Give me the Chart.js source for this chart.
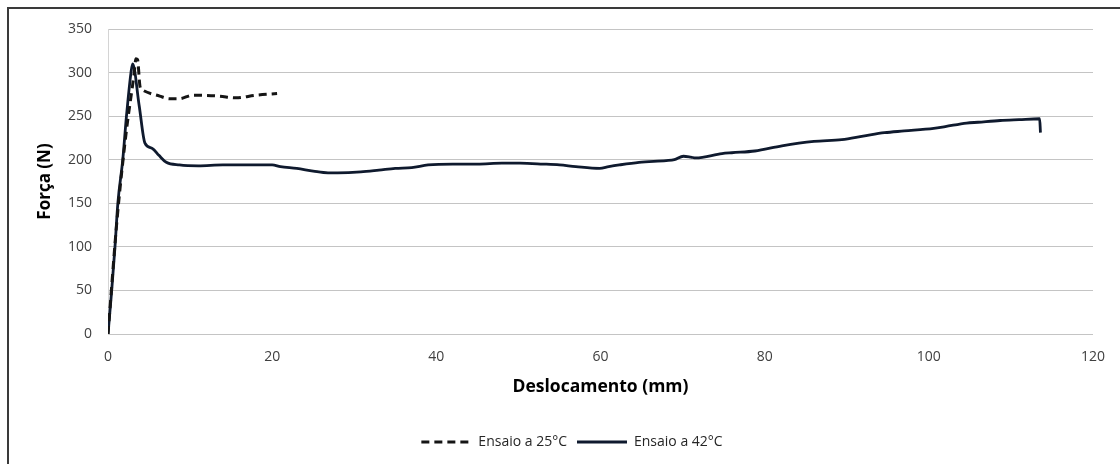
<!DOCTYPE html>
<html>
<head>
<meta charset="utf-8">
<script src="https://cdn.jsdelivr.net/npm/chart.js@4/dist/chart.umd.min.js"></script>
<style>
  body { margin: 0; background: #fff; }
  #frame { position: absolute; left: 7px; top: 7px; width: 1200px; height: 500px; border: 2px solid #3a3a3a; }
  #grafico { position: absolute; left: 0; top: 0; }
</style>
</head>
<body>
<div id="frame"></div>
<canvas id="grafico" width="1120" height="464"></canvas>
<script>
// Ensaio a 25°C (tracejado)
var desloc25 = [0, 1.1, 2.2, 3.2, 3.4, 3.6, 3.9, 4.2, 6.3, 7.5, 8.7, 10.3, 13.5, 15.6, 18.0, 20.6];
var forca25  = [0, 131, 230, 300, 316, 315, 284, 280, 273, 270, 270, 274, 273, 271, 274, 276];

// Ensaio a 42°C (contínuo)
var desloc42 = [0, 0.45, 0.85, 1.2, 1.8, 2.25, 2.8, 3.0, 3.8, 4.5, 5.4, 6.2, 7.1, 8.7, 11, 14, 17, 20, 21, 23, 25, 26.8, 28, 30.8, 33, 35, 37, 39, 42, 45, 48, 50.2, 53, 55, 57, 59.9, 61, 62.3, 64.7, 68, 69, 70.1, 71, 71.6, 74.8, 76, 78.8, 82.1, 86, 89.4, 92, 94.6, 97, 100.6, 102, 104.6, 106, 108.7, 111, 113.5, 113.6];
var forca42  = [0, 50, 100, 150, 200, 250, 300, 310, 262, 219, 213, 205, 197, 194, 193, 194, 194, 194, 192, 190, 187, 185, 185, 186, 188, 190, 191, 194, 195, 195, 196, 196, 195, 194, 192, 190, 192, 194, 197, 199, 200, 204, 203, 202, 207, 208, 210, 216, 221, 223, 227, 231, 233, 236, 238, 242, 243, 245, 246, 247, 231];

var rotulos = ['Ensaio a 25°C', 'Ensaio a 42°C'];

function pontos(xs, ys) {
    var out = [];
    for (var i = 0; i < xs.length; i++) out.push({ x: xs[i], y: ys[i] });
    return out;
}

var fonte = "'Open Sans', sans-serif";

var ctx = document.getElementById('grafico');
var chart = new Chart(ctx, {
    type: 'scatter',
    data: {
        datasets: [{
            label: rotulos[0],
            data: pontos(desloc25, forca25),
            showLine: true,
            borderColor: '#151515',
            backgroundColor: '#151515',
            borderWidth: 3,
            borderDash: [8, 5],
            pointRadius: 0,
            cubicInterpolationMode: 'monotone'
        }, {
            label: rotulos[1],
            data: pontos(desloc42, forca42),
            showLine: true,
            borderColor: '#0f1a2e',
            backgroundColor: '#0f1a2e',
            borderWidth: 2.8,
            pointRadius: 0,
            cubicInterpolationMode: 'monotone'
        }]
    },
    options: {
        responsive: false,
        animation: false,
        layout: { padding: { left: 42, right: 18, top: 29, bottom: 5 } },
        plugins: {
            tooltip: { enabled: false },
            legend: {
                position: 'bottom',
                labels: {
                    usePointStyle: true,
                    pointStyle: 'line',
                    pointStyleWidth: 50,
                    padding: 10,
                    color: '#262626',
                    font: { family: fonte, size: 14 },
                    generateLabels: function (chart) {
                        var items = Chart.defaults.plugins.legend.labels.generateLabels(chart);
                        items.forEach(function (it) {
                            var ds = chart.data.datasets[it.datasetIndex];
                            it.lineDash = ds.borderDash || [];
                            it.lineWidth = ds.borderWidth;
                            it.strokeStyle = ds.borderColor;
                        });
                        return items;
                    }
                }
            }
        },
        scales: {
            x: {
                type: 'linear',
                min: 0,
                max: 120,
                ticks: { stepSize: 20, padding: 15, color: '#404040', font: { family: fonte, size: 14 } },
                grid: { display: false, drawTicks: false },
                border: { display: false },
                title: {
                    display: true,
                    text: 'Deslocamento (mm)',
                    color: '#000',
                    font: { family: fonte, size: 17.5, weight: 'bold' },
                    padding: { top: 0, bottom: 27 }
                },
                afterFit: function (scale) { scale.height = 91; }
            },
            y: {
                min: 0,
                max: 350,
                ticks: { stepSize: 50, padding: 16, color: '#404040', font: { family: fonte, size: 14 } },
                grid: { color: '#c4c4c4', lineWidth: 1, drawTicks: false },
                border: { display: true, color: '#d4d4d4' },
                title: {
                    display: true,
                    text: 'Força (N)',
                    color: '#000',
                    font: { family: fonte, size: 17, weight: 'bold' },
                    padding: { top: -7, bottom: 0 }
                },
                afterFit: function (scale) { scale.width = 66; }
            }
        }
    }
});
</script>
</body>
</html>
